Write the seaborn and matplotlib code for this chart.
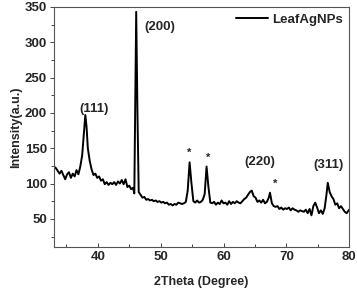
import matplotlib
matplotlib.use("Agg")
import matplotlib.pyplot as plt
import seaborn as sns
import pandas as pd
from matplotlib.ticker import MultipleLocator

two_theta = [33.0, 33.3, 33.6, 33.9, 34.2, 34.5, 34.8, 35.1, 35.4, 35.7, 36.0, 36.3, 36.6, 36.9,
             37.2, 37.5, 37.8, 38.0, 38.2, 38.4, 38.7, 39.0, 39.3, 39.6, 39.9, 40.2, 40.5, 40.8,
             41.1, 41.4, 41.7, 42.0, 42.3, 42.6, 42.9, 43.2, 43.5, 43.8, 44.1, 44.4, 44.7, 45.0,
             45.3, 45.6, 45.8, 46.0, 46.1, 46.3, 46.5, 46.8, 47.1, 47.4, 47.7, 48.0, 48.3, 48.6,
             48.9, 49.2, 49.5, 49.8, 50.1, 50.4, 50.7, 51.0, 51.3, 51.6, 51.9, 52.2, 52.5, 52.8,
             53.1, 53.4, 53.7, 54.0, 54.3, 54.6, 54.9, 55.2, 55.5, 55.8, 56.1, 56.4, 56.7, 57.0,
             57.3, 57.6, 57.9, 58.2, 58.5, 58.8, 59.1, 59.4, 59.7, 60.0, 60.3, 60.6, 60.9, 61.2,
             61.5, 61.8, 62.1, 62.4, 62.7, 63.0, 63.3, 63.6, 63.9, 64.2, 64.5, 64.8, 65.1, 65.4,
             65.7, 66.0, 66.3, 66.6, 66.9, 67.2, 67.4, 67.7, 68.0, 68.3, 68.6, 68.9, 69.2, 69.5,
             69.8, 70.1, 70.4, 70.7, 71.0, 71.3, 71.6, 71.9, 72.2, 72.5, 72.8, 73.1, 73.4, 73.7,
             74.0, 74.3, 74.6, 74.9, 75.2, 75.5, 75.8, 76.1, 76.4, 76.6, 76.9, 77.2, 77.5, 77.8,
             78.1, 78.4, 78.7, 79.0, 79.3, 79.6, 80.0]
intensity = [124, 122, 118, 114, 118, 112, 106, 113, 116, 108, 114, 110, 119, 113,
             124, 140, 175, 197, 180, 150, 132, 120, 112, 114, 108, 110, 104, 106,
             99, 102, 98, 101, 99, 102, 98, 103, 100, 105, 99, 106, 95, 97,
             92, 94, 86, 250, 343, 200, 88, 84, 80, 81, 77, 78, 76, 77,
             75, 76, 74, 75, 73, 74, 72, 73, 70, 71, 69, 71, 70, 73,
             72, 71, 72, 74, 90, 130, 100, 75, 73, 76, 73, 74, 77, 85,
             124, 95, 73, 72, 74, 70, 73, 71, 76, 72, 73, 70, 75, 71,
             74, 72, 75, 73, 72, 75, 78, 80, 84, 88, 90, 82, 80, 74,
             76, 73, 77, 72, 74, 80, 87, 72, 68, 67, 68, 64, 66, 63,
             65, 64, 66, 62, 65, 63, 62, 60, 62, 61, 60, 63, 58, 64,
             55, 68, 73, 66, 58, 62, 57, 65, 85, 101, 88, 82, 78, 70,
             72, 65, 68, 64, 60, 58, 63]

peak_labels = ["(111)", "(200)", "*", "*", "(220)", "*", "(311)"]
label_x = [39.4, 49.8, 54.6, 57.6, 65.7, 68.2, 76.7]
label_y = [206, 322, 143, 137, 130, 100, 126]

sns.set_theme(style="ticks")
plt.rcParams['font.family'] = ['Liberation Sans', 'DejaVu Sans']
plt.rcParams['font.weight'] = 'bold'

df = pd.DataFrame({"2Theta": two_theta, "Intensity": intensity, "Sample": "LeafAgNPs"})

fig = plt.figure(figsize=(3.57, 2.88), dpi=100)
ax = fig.add_axes([0.151, 0.142, 0.827, 0.834])
sns.lineplot(data=df, x="2Theta", y="Intensity", hue="Sample", palette=["black"],
             linewidth=1.4, ax=ax)

ax.set_xlim(33, 80)
ax.set_ylim(10, 350)
ax.xaxis.set_major_locator(MultipleLocator(10))
ax.xaxis.set_minor_locator(MultipleLocator(5))
ax.yaxis.set_major_locator(MultipleLocator(50))
ax.yaxis.set_minor_locator(MultipleLocator(25))
ax.set_yticks([50, 100, 150, 200, 250, 300, 350])
ax.tick_params(axis='x', which='major', direction='in', length=3, width=0.6, labelsize=9.5, pad=3)
ax.tick_params(axis='x', which='minor', direction='in', length=2, width=0.6)
ax.tick_params(axis='y', which='major', direction='out', length=3, width=0.6, labelsize=9.5, pad=2)
ax.tick_params(axis='y', which='minor', direction='out', length=2, width=0.6)
for lab in ax.get_xticklabels() + ax.get_yticklabels():
    lab.set_fontweight('bold')
for sp in ax.spines.values():
    sp.set_linewidth(0.8)
    sp.set_color('#555555')

ax.set_xlabel("2Theta (Degree)", fontsize=9, fontweight='bold', labelpad=9)
ax.set_ylabel("Intensity(a.u.)", fontsize=9, fontweight='bold', labelpad=2)

for t, xx, yy in zip(peak_labels, label_x, label_y):
    ax.text(xx, yy, t, ha='center', va='center', fontsize=9.5 if t != "*" else 8,
            fontweight='bold')

leg = ax.legend(loc='upper right', frameon=False, fontsize=9.5, handlelength=2.4,
                handletextpad=0.3, borderaxespad=0.3, borderpad=0.2)
for txt in leg.get_texts():
    txt.set_fontweight('bold')

fig.savefig("out.png", dpi=100)
